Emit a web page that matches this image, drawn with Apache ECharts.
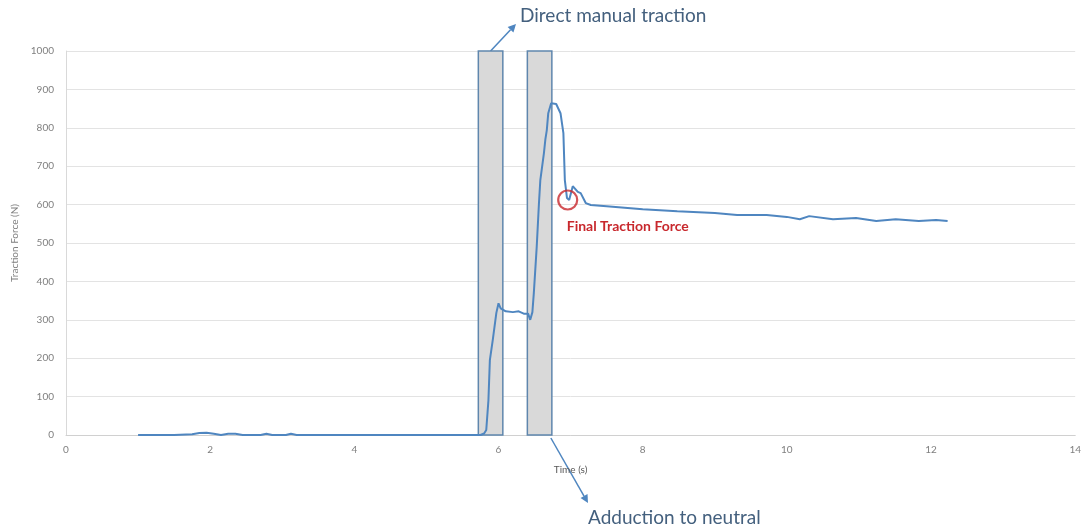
<!DOCTYPE html>
<html>
<head>
<meta charset="utf-8">
<script src="https://cdn.jsdelivr.net/npm/echarts@6/dist/echarts.min.js"></script>
<style>
  html, body { margin: 0; padding: 0; background: #fff; }
  #chart { width: 1084px; height: 531px; }
</style>
</head>
<body>
<div id="chart"></div>
<script>
// time (s) and traction force (N)
const times = [1.0, 1.5, 1.75, 1.85, 1.95, 2.05, 2.15, 2.25, 2.35, 2.45, 2.7, 2.78, 2.86, 3.05, 3.12, 3.2,
  5.75, 5.80, 5.83, 5.86, 5.88, 5.92, 5.97, 6.00, 6.03, 6.10, 6.20, 6.28, 6.35, 6.41, 6.44, 6.47,
  6.49, 6.53, 6.56, 6.58, 6.63, 6.65, 6.67, 6.69, 6.73, 6.80, 6.86, 6.90, 6.92, 6.95, 6.98,
  7.03, 7.10, 7.14, 7.21, 7.28, 7.5, 8.0, 8.48, 9.0, 9.31, 9.72, 10.0, 10.18, 10.31, 10.64,
  10.96, 11.24, 11.51, 11.83, 12.07, 12.23];
const forces = [0, 0, 2, 5, 6, 3, 0, 3, 3, 0, 0, 3, 0, 0, 3, 0,
  0, 4, 13, 90, 195, 247, 318, 343, 330, 322, 320, 322, 316, 316, 300, 320,
  370, 490, 600, 664, 734, 770, 794, 838, 864, 862, 838, 786, 664, 617, 612,
  648, 633, 630, 604, 599, 596, 588, 583, 578, 573, 573, 568, 562, 570, 562,
  565, 557, 562, 557, 560, 557];

// shaded phases
const boxStart = [5.72, 6.40];
const boxEnd = [6.06, 6.74];
const boxTop = 1000;

// final traction force point
const finalPoint = [6.96, 612];

const xTicks = { min: 0, max: 14, interval: 2 };
const yTicks = { min: 0, max: 1000, interval: 100 };

const chart = echarts.init(document.getElementById('chart'));
const font = 'Lato, "Open Sans", sans-serif';

chart.setOption({
  animation: false,
  grid: { left: 66, right: 5, top: 51, bottom: 96 },
  xAxis: {
    type: 'value',
    min: xTicks.min, max: xTicks.max, interval: xTicks.interval,
    name: 'Time (s)', nameLocation: 'middle', nameGap: 30,
    nameTextStyle: { color: '#595959', fontSize: 10, fontFamily: font },
    axisLine: { lineStyle: { color: '#d0d0d0' } },
    axisTick: { show: false },
    axisLabel: { color: '#7f7f7f', fontSize: 10, fontFamily: font, margin: 10 },
    splitLine: { show: false }
  },
  yAxis: {
    type: 'value',
    min: yTicks.min, max: yTicks.max, interval: yTicks.interval,
    name: 'Traction Force (N)', nameLocation: 'middle', nameGap: 44, nameRotate: 90,
    nameTextStyle: { color: '#7f7f7f', fontSize: 10, fontFamily: font },
    axisLine: { show: true, lineStyle: { color: '#d9d9d9' } },
    axisTick: { show: false },
    axisLabel: { color: '#7f7f7f', fontSize: 10, fontFamily: font, margin: 12, formatter: v => String(v) },
    splitLine: { lineStyle: { color: '#e3e3e3' } }
  },
  series: [
    {
      type: 'line',
      data: times.map((t, i) => [t, forces[i]]),
      showSymbol: false,
      lineStyle: { color: '#4f86c0', width: 2 },
      z: 3,
      markArea: {
        silent: true,
        itemStyle: { color: '#d9d9d9', borderColor: '#5f86ad', borderWidth: 1.5 },
        data: boxStart.map((s, i) => [{ coord: [s, 0] }, { coord: [boxEnd[i], boxTop] }])
      }
    },
    {
      type: 'scatter',
      data: [finalPoint],
      symbol: 'circle',
      symbolSize: 19,
      itemStyle: { color: 'rgba(0,0,0,0)', borderColor: '#c8282d', borderWidth: 2.2 },
      z: 4
    }
  ]
});

// annotations with arrows
const p1 = chart.convertToPixel({ gridIndex: 0 }, [(boxStart[0] + boxEnd[0]) / 2, boxTop]);
const p2 = chart.convertToPixel({ gridIndex: 0 }, [boxEnd[1], 0]);
const fp = chart.convertToPixel({ gridIndex: 0 }, finalPoint);

function arrow(x1, y1, x2, y2) {
  const a = Math.atan2(y2 - y1, x2 - x1), L = 8, W = 4;
  const bx = x2 - L * Math.cos(a), by = y2 - L * Math.sin(a);
  return [
    { type: 'line', shape: { x1: x1, y1: y1, x2: bx, y2: by }, style: { stroke: '#4f86c0', lineWidth: 1.5 } },
    { type: 'polygon', shape: { points: [[x2, y2],
      [bx + W * Math.sin(a), by - W * Math.cos(a)],
      [bx - W * Math.sin(a), by + W * Math.cos(a)]] }, style: { fill: '#4f86c0' } }
  ];
}

chart.setOption({
  graphic: [
    ...arrow(p1[0], p1[1], 516, 24),
    ...arrow(p2[0] - 1, p2[1] + 3, 588, 503),
    { type: 'text', left: 520, top: 6,
      style: { text: 'Direct manual traction', fill: '#44607e', font: '19px ' + font } },
    { type: 'text', left: 588, top: 508,
      style: { text: 'Adduction to neutral', fill: '#44607e', font: '19px ' + font } },
    { type: 'text', left: fp[0] - 1, top: fp[1] + 19,
      style: { text: 'Final Traction Force', fill: '#c8282d', font: 'bold 14px ' + font } }
  ]
});
</script>
</body>
</html>
